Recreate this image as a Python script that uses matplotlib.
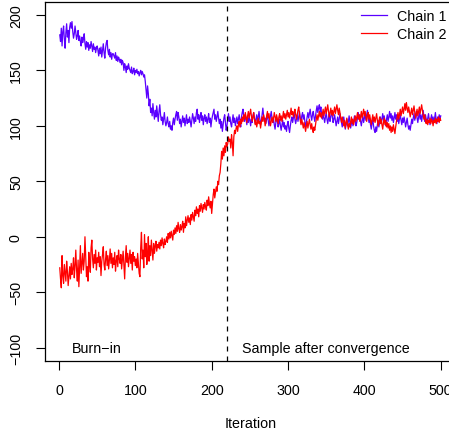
import matplotlib
matplotlib.use("Agg")
import matplotlib.pyplot as plt
import numpy as np

plt.rcParams['font.family'] = ['Liberation Sans', 'DejaVu Sans']

chain1 = [
    182, 176, 188, 172, 185, 190, 178, 170, 184, 192,
    180, 186, 175, 189, 193, 188, 194, 185, 179, 183,
    190, 184, 178, 181, 186, 177, 181, 176, 172, 180,
    175, 178, 183, 174, 169, 176, 171, 175, 168, 173,
    170, 176, 172, 167, 174, 169, 171, 166, 170, 172,
    168, 163, 170, 165, 171, 162, 168, 174, 166, 161,
    170, 175, 177, 168, 164, 169, 162, 166, 160, 165,
    165, 163, 161, 166, 159, 163, 158, 162, 160, 157,
    160, 155, 159, 157, 150, 156, 153, 148, 154, 151,
    156, 152, 150, 148, 153, 147, 149, 152, 146, 150,
    148, 151, 147, 149, 145, 148, 150, 146, 149, 147,
    144, 146, 140, 132, 125, 136, 129, 118, 124, 112,
    116, 109, 120, 112, 106, 114, 108, 118, 111, 104,
    113, 119, 110, 105, 108, 101, 106, 112, 104, 100,
    103, 108, 102, 99, 104, 97, 100, 96, 103, 107,
    101, 106, 110, 113, 105, 112, 108, 102, 106, 99,
    104, 109, 103, 107, 100, 105, 110, 102, 106, 103,
    108, 104, 99, 105, 111, 107, 102, 108, 104, 112,
    115, 106, 110, 103, 108, 112, 105, 109, 101, 107,
    110, 104, 108, 102, 106, 111, 103, 107, 99, 105,
    109, 112, 115, 106, 110, 104, 108, 113, 107, 102,
    106, 98, 104, 95, 101, 107, 110, 103, 96, 100,
    106, 111, 104, 108, 102, 99, 105, 110, 103, 107,
    100, 104, 108, 102, 106, 110, 104, 99, 108, 112,
    115, 108, 104, 110, 106, 101, 107, 103, 109, 105,
    100, 106, 103, 109, 112, 107, 102, 106, 110, 104,
    108, 113, 106, 101, 105, 110, 116, 109, 104, 107,
    102, 106, 111, 105, 100, 104, 109, 113, 107, 103,
    106, 101, 97, 103, 108, 104, 99, 102, 106, 100,
    96, 101, 105, 99, 103, 97, 100, 95, 101, 104,
    98, 94, 100, 105, 108, 103, 107, 111, 106, 102,
    106, 110, 104, 108, 113, 107, 103, 109, 112, 106,
    110, 104, 99, 103, 108, 112, 107, 111, 115, 109,
    105, 110, 113, 108, 104, 109, 114, 118, 112, 116,
    119, 113, 117, 110, 106, 111, 107, 103, 108, 112,
    106, 102, 107, 111, 104, 108, 113, 109, 103, 106,
    110, 105, 100, 104, 108, 102, 106, 111, 107, 103,
    99, 104, 108, 102, 97, 101, 106, 100, 104, 109,
    103, 98, 102, 106, 100, 104, 109, 105, 100, 103,
    107, 112, 106, 110, 104, 100, 105, 109, 103, 107,
    111, 105, 110, 114, 108, 103, 107, 101, 97, 102,
    106, 100, 96, 94, 99, 95, 101, 105, 99, 103,
    108, 102, 106, 111, 105, 109, 104, 100, 106, 110,
    104, 108, 113, 107, 111, 105, 109, 103, 107, 112,
    106, 110, 104, 108, 102, 106, 110, 105, 101, 107,
    103, 108, 104, 99, 103, 107, 101, 97, 100, 96,
    101, 106, 102, 107, 111, 105, 109, 113, 107, 103,
    108, 112, 106, 110, 104, 109, 114, 108, 104, 110,
    106, 102, 107, 111, 105, 101, 106, 110, 104, 108,
    103, 107, 112, 106, 102, 108, 104, 110, 106, 109,
]

chain2 = [
    -28, -38, -46, -17, -35, -42, -25, -33, -40, -22,
    -31, -44, -36, -27, -38, -24, -34, -29, -19, -37,
    -26, -12, -30, -40, -21, -45, -28, -8, -33, -24,
    -15, -30, -22, 0, -18, -36, -27, -40, -14, -25,
    -32, -10, -3, -20, -28, -16, -24, -12, -30, -19,
    -23, -14, -27, -18, -35, -22, -16, -9, -25, -30,
    -20, -13, -26, -17, -29, -21, -11, -24, -15, -28,
    -19, -25, -14, -31, -22, -17, -27, -12, -20, -24,
    -16, -29, -21, -13, -26, -38, -18, -8, -23, -15,
    -27, -19, -12, -24, -16, -30, -14, -22, -18, -26,
    -20, -28, -15, -24, -33, -36, -10, 4, -20, -12,
    -28, 2, -18, -6, -25, -14, 0, -22, -8, -17,
    -3, -12, -21, -6, -15, -9, -4, -13, -7, -10,
    -5, -11, -3, -8, -1, -6, -10, -2, -7, -4,
    0, -5, 3, -2, 4, -1, 5, 1, -3, 6,
    2, 8, 3, 10, 5, 13, 7, 4, 11, 6,
    9, 14, 4, 12, 8, 18, 10, 15, 19, 13,
    17, 11, 20, 15, 22, 18, 14, 24, 19, 27,
    21, 25, 18, 28, 23, 30, 26, 22, 29, 25,
    31, 27, 24, 33, 28, 36, 30, 26, 32, 21,
    29, 38, 43, 35, 40, 45, 41, 50, 47, 55,
    58, 66, 77, 70, 80, 73, 82, 76, 85, 81,
    84, 90, 86, 88, 80, 92, 85, 73, 90, 96,
    93, 98, 100, 95, 101, 104, 99, 106, 102, 108,
    104, 110, 106, 112, 108, 103, 109, 113, 107, 111,
    115, 109, 104, 108, 112, 106, 101, 105, 99, 103,
    107, 102, 104, 98, 103, 108, 104, 110, 106, 100,
    104, 109, 113, 107, 111, 105, 100, 104, 108, 103,
    107, 112, 108, 104, 110, 106, 102, 108, 111, 105,
    109, 104, 108, 113, 107, 111, 106, 110, 114, 108,
    112, 107, 111, 116, 110, 113, 108, 112, 115, 110,
    106, 110, 114, 117, 111, 105, 101, 106, 102, 98,
    103, 99, 95, 100, 104, 98, 102, 106, 101, 97,
    102, 97, 94, 99, 96, 101, 106, 110, 105, 109,
    113, 108, 112, 107, 111, 115, 109, 113, 117, 111,
    115, 119, 113, 108, 112, 116, 110, 114, 109, 113,
    117, 111, 115, 119, 114, 110, 116, 112, 107, 103,
    108, 104, 100, 105, 98, 103, 107, 101, 97, 102,
    99, 104, 108, 102, 106, 101, 105, 109, 104, 108,
    112, 106, 110, 104, 108, 113, 107, 111, 115, 109,
    113, 108, 104, 109, 112, 106, 110, 105, 101, 106,
    110, 104, 108, 103, 107, 111, 105, 100, 104, 108,
    102, 106, 101, 97, 103, 107, 101, 105, 99, 103,
    98, 102, 96, 100, 94, 99, 95, 101, 97, 93,
    99, 104, 108, 112, 106, 110, 115, 109, 113, 117,
    111, 115, 120, 114, 121, 116, 112, 117, 113, 108,
    112, 116, 110, 114, 118, 112, 107, 111, 115, 109,
    113, 117, 111, 115, 119, 114, 110, 106, 110, 104,
    102, 106, 101, 105, 103, 107, 102, 106, 104, 100,
    105, 103, 107, 102, 106, 104, 108, 103, 107, 105,
]

iterations = np.arange(1, len(chain1) + 1)
burn_in_end = 220
x_ticks = [0, 100, 200, 300, 400, 500]
y_ticks = [-100, -50, 0, 50, 100, 150, 200]
series_labels = ["Chain 1", "Chain 2"]
colors = ["#5a00ff", "#ff0000"]

W, H = 449, 435
fig = plt.figure(figsize=(W / 100, H / 100), dpi=100)
ax = fig.add_axes([44.5 / W, 73 / H, (456 - 44.5) / W, (362 - 2.6) / H])

fs = 10.3
ax.plot(iterations, chain1, color=colors[0], lw=0.9, label=series_labels[0])
ax.plot(iterations, chain2, color=colors[1], lw=0.9, label=series_labels[1])
ax.axvline(burn_in_end, color="black", lw=0.9, linestyle=(0, (4, 4)))

ax.set_xlim(-19, 520)
ax.set_ylim(-112, 212)
ax.set_xticks(x_ticks)
ax.set_yticks(y_ticks)
ax.tick_params(axis="both", length=6.5, width=0.8, labelsize=fs, direction="out")
ax.tick_params(axis="x", pad=9)
ax.tick_params(axis="y", pad=9)
for lab in ax.get_yticklabels():
    lab.set_rotation(90)
    lab.set_va("center")
for sp in ax.spines.values():
    sp.set_linewidth(0.9)

ax.set_xlabel("Iteration", fontsize=fs, labelpad=14)

ax.text(50, -100, "Burn\u2212in", ha="center", va="center", fontsize=fs)
ax.text(350, -100, "Sample after convergence", ha="center", va="center", fontsize=fs)

leg = ax.legend(loc="upper left", bbox_to_anchor=(361 / W, 1 - 10 / H),
                bbox_transform=fig.transFigure, frameon=False, fontsize=fs,
                handlelength=1.82, handletextpad=0.7, borderpad=0,
                borderaxespad=0, labelspacing=0.3)

fig.savefig("out.png", dpi=100)
